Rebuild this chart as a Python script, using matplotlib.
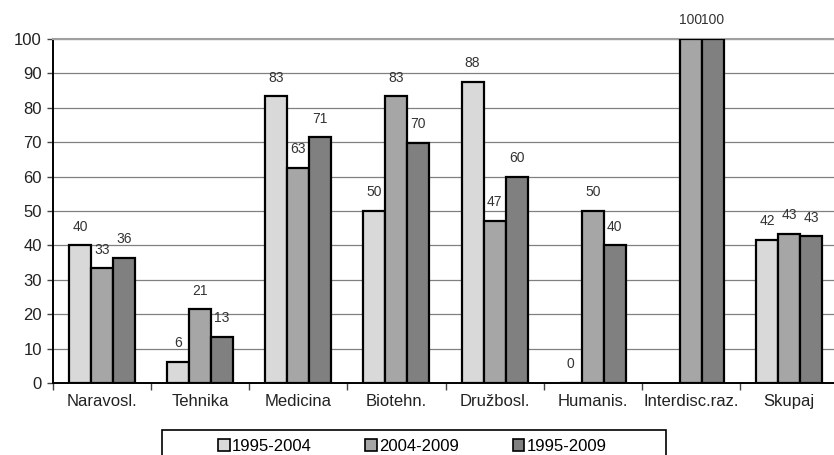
import math
import numpy as np
import matplotlib
matplotlib.use("Agg")
import matplotlib.pyplot as plt
from matplotlib.patches import Patch, Rectangle

plt.rcParams['font.family'] = ['Liberation Sans', 'DejaVu Sans']

categories = ["Naravosl.", "Tehnika", "Medicina", "Biotehn.", "Družbosl.",
              "Humanis.", "Interdisc.raz.", "Skupaj"]
series_names = ["1995-2004", "2004-2009", "1995-2009"]
s1 = [40.0, 6.25, 83.3, 50.0, 87.5, 0.0, np.nan, 41.7]
s2 = [33.3, 21.4, 62.5, 83.3, 47.1, 50.0, 100.0, 43.3]
s3 = [36.4, 13.3, 71.4, 69.8, 60.0, 40.0, 100.0, 42.6]
yticks = [0, 10, 20, 30, 40, 50, 60, 70, 80, 90, 100]

colors = ["#d9d9d9", "#a6a6a6", "#808080"]

fig = plt.figure(figsize=(8.34, 4.55), dpi=100)
ax = fig.add_axes([53/834, 72/455, 785/834, 344/455])

x = np.arange(len(categories))
w = 0.224
for i, (vals, c) in enumerate(zip([s1, s2, s3], colors)):
    pos = x + (i - 1) * w
    ax.bar(pos, vals, w, color=c, edgecolor="black", linewidth=1.6, zorder=3)
    for p, v in zip(pos, vals):
        if np.isnan(v):
            continue
        ax.annotate(str(int(math.floor(v + 0.5))), (p, v), xytext=(0, 13.5),
                    textcoords="offset points", ha="center", va="center",
                    fontsize=10, color="#333333", zorder=4,
                    annotation_clip=False)

ax.set_xlim(-0.5, len(categories) - 0.5)
ax.set_ylim(0, 100)
ax.set_yticks(yticks)
ax.set_yticklabels([str(t) for t in yticks], fontsize=12, color="#222222")
ax.set_xticks(x)
ax.set_xticklabels(categories, fontsize=12, color="#222222")
ax.tick_params(axis="x", which="major", length=0, pad=8)
ax.set_xticks(np.arange(-0.5, len(categories), 1.0), minor=True)
ax.tick_params(axis="x", which="minor", length=5, width=1, color="#444444")
ax.tick_params(axis="y", length=4, width=1, color="#444444", pad=4)

ax.yaxis.grid(True, color="#808080", linewidth=0.9, zorder=0)
ax.set_axisbelow(True)
ax.spines["right"].set_visible(False)
ax.spines["top"].set_color("#a0a0a0")
ax.spines["top"].set_linewidth(1.5)
ax.spines["left"].set_linewidth(1.4)
ax.spines["bottom"].set_linewidth(1.4)

# legend frame (extends below the image edge, as in the reference)
W, H = 834, 455
fig.add_artist(Rectangle((162/W, 1 - 470/H), (666 - 162)/W, 40/H,
                         transform=fig.transFigure, facecolor="white",
                         edgecolor="black", linewidth=1.2, zorder=1))
handles = [Patch(facecolor=c, edgecolor="black", linewidth=1.2) for c in colors]
leg = fig.legend(handles, series_names, loc="upper left",
                 bbox_to_anchor=(218/W, 1 - 439/H), ncol=3,
                 fontsize=12, frameon=False,
                 handlelength=0.7, handleheight=0.7, handletextpad=0.15,
                 columnspacing=3.2, borderpad=0, borderaxespad=0)
leg.set_zorder(2)

fig.savefig("out.png", dpi=100)
